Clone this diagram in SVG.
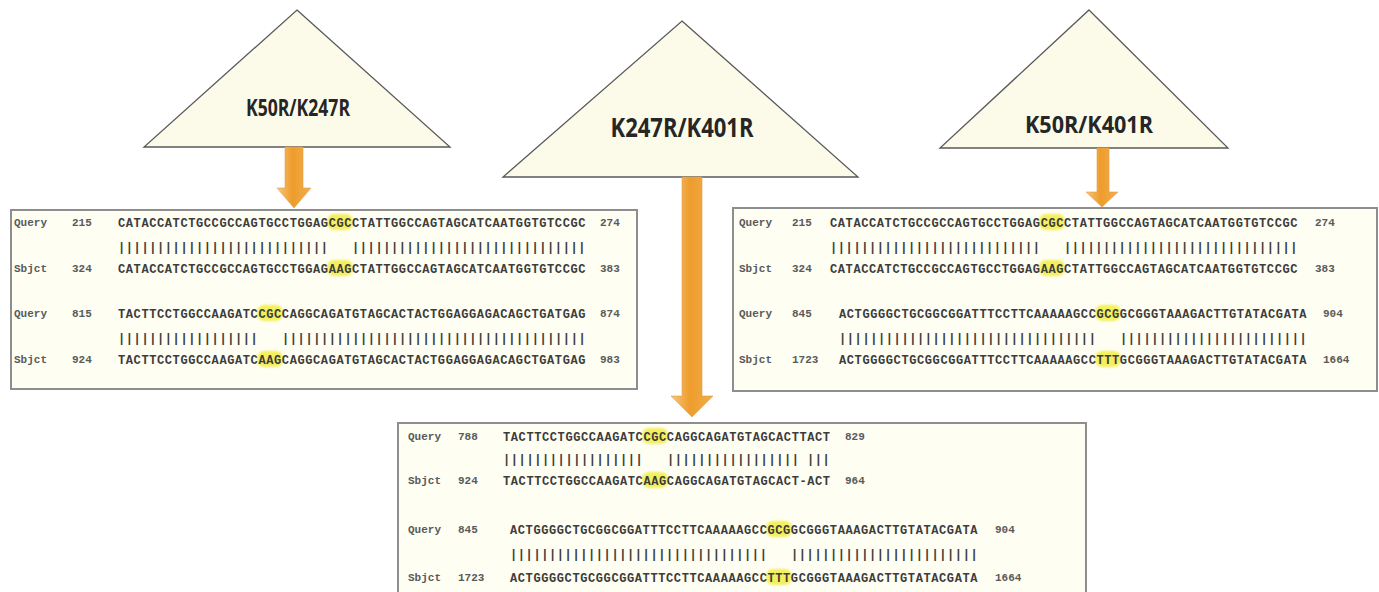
<svg xmlns="http://www.w3.org/2000/svg" width="1379" height="592" viewBox="0 0 1379 592">
  <defs>
    <style>
      .tri { fill: #fcfbe9; stroke: #5a5a5a; stroke-width: 1.3; }
      .tlabel { font-family: "Open Sans", "Liberation Sans", sans-serif; font-weight: 700; fill: #262626; text-anchor: middle; }
      .box { fill: #fefef3; stroke: #8e8e8e; stroke-width: 2; }
      .seq { font-family: "Liberation Mono", "DejaVu Sans Mono", monospace; font-size: 12px; letter-spacing: 0.6px; font-weight: 700; fill: #3c3c3c; }
      .lab { font-family: "Liberation Mono", "DejaVu Sans Mono", monospace; font-size: 11px; font-weight: 700; fill: #5a5a5a; }
      .hl { fill: #f3ee4e; opacity: 0.9; filter: url(#soft); }
      .arrow { stroke: #e0a050; stroke-width: 0.6; }
    </style>
    <filter id="soft" x="-30%" y="-50%" width="160%" height="200%">
      <feGaussianBlur stdDeviation="1.3"/>
    </filter>
    <linearGradient id="orange" x1="0" y1="0" x2="1" y2="0">
      <stop offset="0" stop-color="#f7c879"/>
      <stop offset="0.45" stop-color="#ee9c2c"/>
      <stop offset="1" stop-color="#f1ae4c"/>
    </linearGradient>
  </defs>

  <!-- triangles -->
  <g id="node-k50r-k247r">
    <polygon class="tri" points="297,10 450,147 144,147"/>
    <text class="tlabel" x="298" y="116" font-size="23" textLength="104" lengthAdjust="spacingAndGlyphs">K50R/K247R</text>
  </g>
  <g id="node-k247r-k401r">
    <polygon class="tri" points="682,21 858,177 503,177"/>
    <text class="tlabel" x="682" y="137" font-size="26" textLength="143" lengthAdjust="spacingAndGlyphs">K247R/K401R</text>
  </g>
  <g id="node-k50r-k401r">
    <polygon class="tri" points="1089,10 1228,148 940,148"/>
    <text class="tlabel" x="1089" y="133" font-size="24" textLength="128" lengthAdjust="spacingAndGlyphs">K50R/K401R</text>
  </g>

  <!-- arrows -->
  <g id="connectors">
    <path class="arrow" fill="url(#orange)" d="M285,147 L303,147 L303,188 L311,188 L294,208 L277,188 L285,188 Z"/>
    <path class="arrow" fill="url(#orange)" d="M682,177 L702,177 L702,396 L713,396 L692,417 L671,396 L682,396 Z"/>
    <path class="arrow" fill="url(#orange)" d="M1097,148 L1109,148 L1109,192 L1118,192 L1102,207 L1086,192 L1097,192 Z"/>
  </g>

  <!-- alignment box: K50R/K247R -->
  <g id="node-align-left">
    <rect class="box" x="11" y="210" width="626" height="179"/>
    <rect class="hl" x="327" y="214" width="26" height="16" rx="7"/>
    <rect class="hl" x="327" y="260" width="26" height="16" rx="7"/>
    <rect class="hl" x="257" y="305" width="26" height="16" rx="7"/>
    <rect class="hl" x="257" y="351" width="26" height="16" rx="7"/>
    <text class="lab" x="14" y="226">Query</text>
    <text class="lab" x="72" y="226">215</text>
    <text class="seq" x="118" y="226.5">CATACCATCTGCCGCCAGTGCCTGGAGCGCCTATTGGCCAGTAGCATCAATGGTGTCCGC</text>
    <text class="lab" x="600" y="226">274</text>
    <text class="seq" x="118" y="250.5">|||||||||||||||||||||||||||</text>
    <text class="seq" x="352" y="250.5">||||||||||||||||||||||||||||||</text>
    <text class="lab" x="14" y="272">Sbjct</text>
    <text class="lab" x="72" y="272">324</text>
    <text class="seq" x="118" y="272.5">CATACCATCTGCCGCCAGTGCCTGGAGAAGCTATTGGCCAGTAGCATCAATGGTGTCCGC</text>
    <text class="lab" x="600" y="272">383</text>
    <text class="lab" x="14" y="317">Query</text>
    <text class="lab" x="72" y="317">815</text>
    <text class="seq" x="118" y="317.5">TACTTCCTGGCCAAGATCCGCCAGGCAGATGTAGCACTACTGGAGGAGACAGCTGATGAG</text>
    <text class="lab" x="600" y="317">874</text>
    <text class="seq" x="118" y="341.5">||||||||||||||||||</text>
    <text class="seq" x="282" y="341.5">|||||||||||||||||||||||||||||||||||||||</text>
    <text class="lab" x="14" y="363">Sbjct</text>
    <text class="lab" x="72" y="363">924</text>
    <text class="seq" x="118" y="363.5">TACTTCCTGGCCAAGATCAAGCAGGCAGATGTAGCACTACTGGAGGAGACAGCTGATGAG</text>
    <text class="lab" x="600" y="363">983</text>
  </g>

  <!-- alignment box: K50R/K401R -->
  <g id="node-align-right">
    <rect class="box" x="733" y="208" width="644" height="183"/>
    <rect class="hl" x="1039" y="214" width="26" height="16" rx="7"/>
    <rect class="hl" x="1039" y="260" width="26" height="16" rx="7"/>
    <rect class="hl" x="1095" y="305" width="26" height="16" rx="7"/>
    <rect class="hl" x="1095" y="351" width="26" height="16" rx="7"/>
    <text class="lab" x="739" y="226">Query</text>
    <text class="lab" x="792" y="226">215</text>
    <text class="seq" x="830" y="226.5">CATACCATCTGCCGCCAGTGCCTGGAGCGCCTATTGGCCAGTAGCATCAATGGTGTCCGC</text>
    <text class="lab" x="1315" y="226">274</text>
    <text class="seq" x="830" y="250.5">|||||||||||||||||||||||||||</text>
    <text class="seq" x="1064" y="250.5">||||||||||||||||||||||||||||||</text>
    <text class="lab" x="739" y="272">Sbjct</text>
    <text class="lab" x="792" y="272">324</text>
    <text class="seq" x="830" y="272.5">CATACCATCTGCCGCCAGTGCCTGGAGAAGCTATTGGCCAGTAGCATCAATGGTGTCCGC</text>
    <text class="lab" x="1315" y="272">383</text>
    <text class="lab" x="739" y="317">Query</text>
    <text class="lab" x="792" y="317">845</text>
    <text class="seq" x="839" y="317.5">ACTGGGGCTGCGGCGGATTTCCTTCAAAAAGCCGCGGCGGGTAAAGACTTGTATACGATA</text>
    <text class="lab" x="1323" y="317">904</text>
    <text class="seq" x="839" y="341.5">|||||||||||||||||||||||||||||||||</text>
    <text class="seq" x="1120" y="341.5">||||||||||||||||||||||||</text>
    <text class="lab" x="739" y="363">Sbjct</text>
    <text class="lab" x="792" y="363">1723</text>
    <text class="seq" x="839" y="363.5">ACTGGGGCTGCGGCGGATTTCCTTCAAAAAGCCTTTGCGGGTAAAGACTTGTATACGATA</text>
    <text class="lab" x="1323" y="363">1664</text>
  </g>

  <!-- alignment box: K247R/K401R -->
  <g id="node-align-bottom">
    <rect class="box" x="398" y="423" width="688" height="180"/>
    <rect class="hl" x="642" y="428" width="26" height="16" rx="7"/>
    <rect class="hl" x="642" y="472" width="26" height="16" rx="7"/>
    <rect class="hl" x="766" y="521" width="26" height="16" rx="7"/>
    <rect class="hl" x="766" y="569" width="26" height="16" rx="7"/>
    <text class="lab" x="408" y="440">Query</text>
    <text class="lab" x="458" y="440">788</text>
    <text class="seq" x="503" y="440.5">TACTTCCTGGCCAAGATCCGCCAGGCAGATGTAGCACTTACT</text>
    <text class="lab" x="845" y="440">829</text>
    <text class="seq" x="503" y="462.5">||||||||||||||||||</text>
    <text class="seq" x="667" y="462.5">|||||||||||||||||</text>
    <text class="seq" x="807" y="462.5">|||</text>
    <text class="lab" x="408" y="484">Sbjct</text>
    <text class="lab" x="458" y="484">924</text>
    <text class="seq" x="503" y="484.5">TACTTCCTGGCCAAGATCAAGCAGGCAGATGTAGCACT-ACT</text>
    <text class="lab" x="845" y="484">964</text>
    <text class="lab" x="408" y="533">Query</text>
    <text class="lab" x="458" y="533">845</text>
    <text class="seq" x="510" y="533.5">ACTGGGGCTGCGGCGGATTTCCTTCAAAAAGCCGCGGCGGGTAAAGACTTGTATACGATA</text>
    <text class="lab" x="995" y="533">904</text>
    <text class="seq" x="510" y="557.5">|||||||||||||||||||||||||||||||||</text>
    <text class="seq" x="791" y="557.5">||||||||||||||||||||||||</text>
    <text class="lab" x="408" y="581">Sbjct</text>
    <text class="lab" x="458" y="581">1723</text>
    <text class="seq" x="510" y="581.5">ACTGGGGCTGCGGCGGATTTCCTTCAAAAAGCCTTTGCGGGTAAAGACTTGTATACGATA</text>
    <text class="lab" x="995" y="581">1664</text>
  </g>
</svg>
